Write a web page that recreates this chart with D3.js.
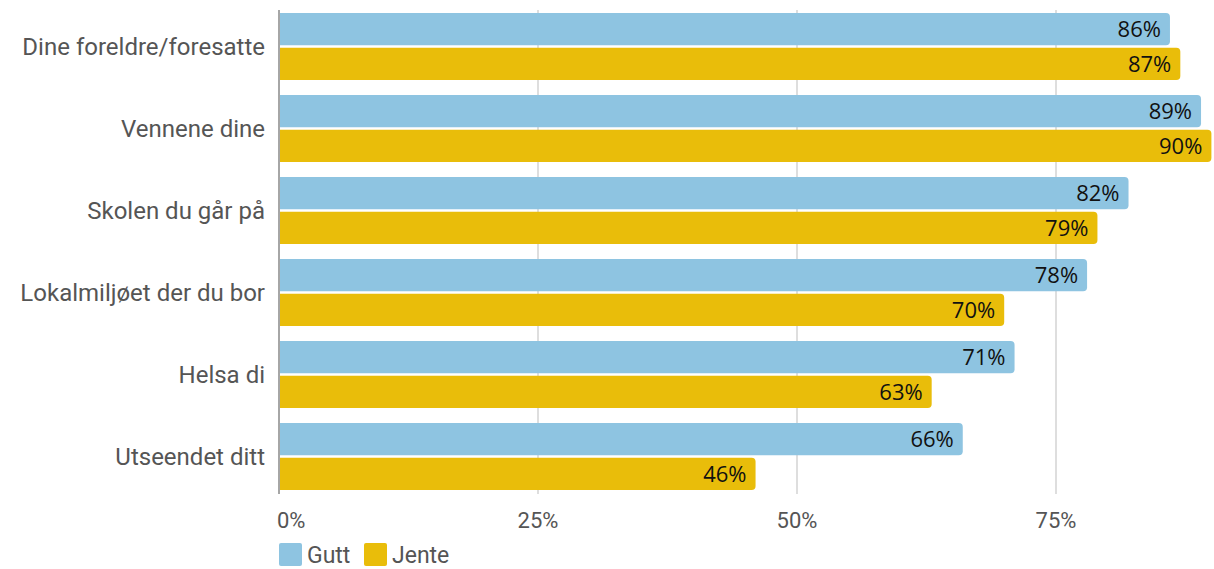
<!DOCTYPE html>
<html><head><meta charset="utf-8">
<script src="https://cdn.jsdelivr.net/npm/d3@7"></script>
<style>body{margin:0;background:#fff;} svg{display:block;font-family:Roboto,sans-serif;}</style>
</head><body>
<svg id="c" width="1214" height="569"></svg>
<script>
const categories = ["Dine foreldre/foresatte","Vennene dine","Skolen du går på","Lokalmiljøet der du bor","Helsa di","Utseendet ditt"];
const seriesNames = ["Gutt","Jente"];
const gutt = [86,89,82,78,71,66];
const jente = [87,90,79,70,63,46];
const ticks = [0,25,50,75];
const colors = ["#8ec4e1","#e9bd0a"];

const svg = d3.select("#c");
const x = d3.scaleLinear().domain([0,25]).range([279,538]);
const y0 = d3.scaleBand().domain(categories).range([5.5,497.5]).paddingInner(15/82).paddingOuter(0.0915);
const y1 = d3.scaleBand().domain(seriesNames).range([0,y0.bandwidth()]).paddingInner(5/67);

svg.append("g").selectAll("line").data(ticks.filter(t=>t>0)).join("line")
  .attr("x1",d=>x(d)).attr("x2",d=>x(d)).attr("y1",10).attr("y2",494)
  .attr("stroke","#d3d3d3").attr("stroke-width",1.5);

const data = categories.map((c,i)=>({c, vals:[gutt[i],jente[i]]}));
const r = 4;
const g = svg.append("g").selectAll("g").data(data).join("g")
  .attr("transform",d=>`translate(0,${y0(d.c)})`);
g.selectAll("path").data(d=>d.vals.map((v,k)=>({v,k}))).join("path")
  .attr("fill",d=>colors[d.k])
  .attr("d",d=>{
    const x0 = x(0)+1, x1 = x(d.v), yy = y1(seriesNames[d.k]), h = y1.bandwidth();
    return `M${x0},${yy}H${x1-r}Q${x1},${yy} ${x1},${yy+r}V${yy+h-r}Q${x1},${yy+h} ${x1-r},${yy+h}H${x0}Z`;
  });
g.selectAll("text").data(d=>d.vals.map((v,k)=>({v,k}))).join("text")
  .attr("x",d=>x(d.v)-9).attr("y",d=>y1(seriesNames[d.k])+y1.bandwidth()/2)
  .attr("dy","0.36em").attr("text-anchor","end")
  .attr("font-size",22).attr("font-family","'Open Sans',sans-serif").attr("fill","#111")
  .text(d=>d.v+"%");

svg.append("g").selectAll("text").data(categories).join("text")
  .attr("x",265).attr("y",d=>y0(d)+y0.bandwidth()/2).attr("dy","0.36em")
  .attr("text-anchor","end").attr("font-size",24).attr("fill","#555")
  .text(d=>d);

svg.append("line").attr("x1",x(0)).attr("x2",x(0)).attr("y1",10).attr("y2",494)
  .attr("stroke","#888").attr("stroke-width",1.5);

svg.append("g").selectAll("text").data(ticks).join("text")
  .attr("x",d=>d===0?x(d)-2:x(d)).attr("y",520).attr("dy","0.36em")
  .attr("text-anchor",d=>d===0?"start":"middle")
  .attr("font-size",22).attr("fill","#555")
  .text(d=>d+"%");

const leg = svg.append("g");
const lx = [279,364];
seriesNames.forEach((n,i)=>{
  leg.append("rect").attr("x",lx[i]).attr("y",543).attr("width",23).attr("height",23).attr("rx",2).attr("fill",colors[i]);
  leg.append("text").attr("x",lx[i]+28).attr("y",554.5).attr("dy","0.36em").attr("font-size",23).attr("fill","#555").text(n);
});
</script>
</body></html>
